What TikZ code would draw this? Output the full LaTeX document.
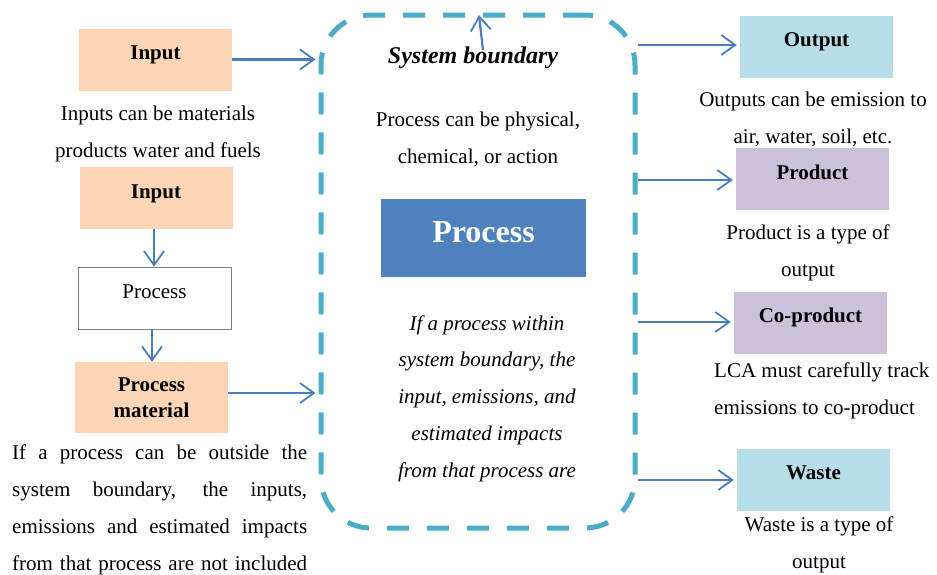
\documentclass[tikz,border=0pt]{standalone}
\usepackage{fontspec}
\setmainfont{Liberation Serif}
\usetikzlibrary{arrows.meta}
\definecolor{peach}{HTML}{FBD5B5}
\definecolor{lblue}{HTML}{B7DEE8}
\definecolor{lav}{HTML}{CCC1DA}
\definecolor{pblue}{HTML}{4F81BD}
\definecolor{bnd}{HTML}{4BACC6}
\definecolor{arr}{HTML}{4A7EBB}
\begin{document}
\begin{tikzpicture}[x=1pt,y=-1pt,
  cbox/.style={inner sep=0pt, minimum width=153pt, minimum height=62pt,
    text height=8pt, text depth=8pt, font=\fontsize{21}{25}\selectfont\bfseries},
  txt/.style={font=\fontsize{21}{36.7}\selectfont, anchor=base, align=center, inner sep=0pt},
  itxt/.style={txt, font=\fontsize{21}{36.7}\selectfont\itshape},
  flow/.style={draw=arr, line width=2.2pt,
    -{Straight Barb[length=14pt,width=20pt,line width=1.8pt]}},
]
\useasboundingbox (0,0) rectangle (937,574);

% system boundary
\node[draw=bnd, line width=5pt, dash pattern=on 22pt off 18pt, rounded corners=50pt,
  minimum width=314pt, minimum height=513pt, inner sep=0pt] (bound) at (478,271.5) {};

% left column
\node[cbox, fill=peach] (in1) at (155.5,59.5) {Input};
\node[txt] (t1) at (158,157) {Inputs can be materials\\products water and fuels};
\node[cbox, fill=peach] (in2) at (156,198) {Input};
\node[cbox, draw=gray, line width=0.8pt, fill=white, font=\fontsize{21}{25}\selectfont] (proc) at (154.5,298) {Process};
\node[cbox, fill=peach, minimum height=71pt, text height=, text depth=, align=center,
  font=\fontsize{21}{26}\selectfont\bfseries] (pmat) at (151.5,397.5) {Process\\material};
\node[txt, anchor=base west, align=left] (t2) at (12,570)
  {\makebox[295pt][s]{If a process can be outside the}\\
   \makebox[295pt][s]{system boundary, the inputs,}\\
   \makebox[295pt][s]{emissions and estimated impacts}\\
   \makebox[295pt][s]{from that process are not included}};

\draw[flow, shorten >=3pt] (in1.east) -- (in1.east -| bound.west);
\draw[flow] (in2.south -| 154,0) -- (proc.north -| 154,0);
\draw[flow] (proc.south -| 152,0) -- (pmat.north -| 152,0);
\draw[flow, shorten >=3pt] (228,393) -- (bound.west |- 0,393);

% centre
\node[txt, font=\fontsize{24}{28}\selectfont\bfseries\itshape] (sb) at (473,63) {System boundary};
\coordinate (sbtail) at (483,50);
\coordinate (sbtip) at (479,15);
\draw[flow] (sbtail) -- (sbtip);
\node[txt] (t3) at (478,163) {Process can be physical,\\chemical, or action};
\node[inner sep=0pt, fill=pblue, minimum width=205pt, minimum height=78pt,
  text height=12pt, text depth=4pt, text=white,
  font=\fontsize{32}{36}\selectfont\bfseries] (bigp) at (483.5,238) {Process};
\node[itxt] (t4) at (487,477) {If a process within\\system boundary, the\\input, emissions, and\\estimated impacts\\from that process are};

% right column
\node[cbox, fill=lblue] (out) at (816.5,46.5) {Output};
\node[txt] (t5) at (813,143) {Outputs can be emission to\\air, water, soil, etc.};
\node[cbox, fill=lav] (prod) at (812.5,179) {Product};
\node[txt] (t6) at (808,276) {Product is a type of\\output};
\node[cbox, fill=lav] (cop) at (810.5,322.5) {Co-product};
\node[txt, anchor=base west, align=left] (t7) at (714,414) {LCA must carefully track\\emissions to co-product};
\node[cbox, fill=lblue] (waste) at (813.5,479.5) {Waste};
\node[txt] (t8) at (819,568) {Waste is a type of\\output};

\draw[flow, shorten >=3pt] (bound.east |- 0,45) -- (out.west |- 0,45);
\draw[flow, shorten >=3pt] (bound.east |- 0,180) -- (prod.west |- 0,180);
\draw[flow, shorten >=3pt] (bound.east |- 0,322) -- (cop.west |- 0,322);
\draw[flow, shorten >=3pt] (bound.east |- 0,480) -- (waste.west |- 0,480);
\end{tikzpicture}
\end{document}
